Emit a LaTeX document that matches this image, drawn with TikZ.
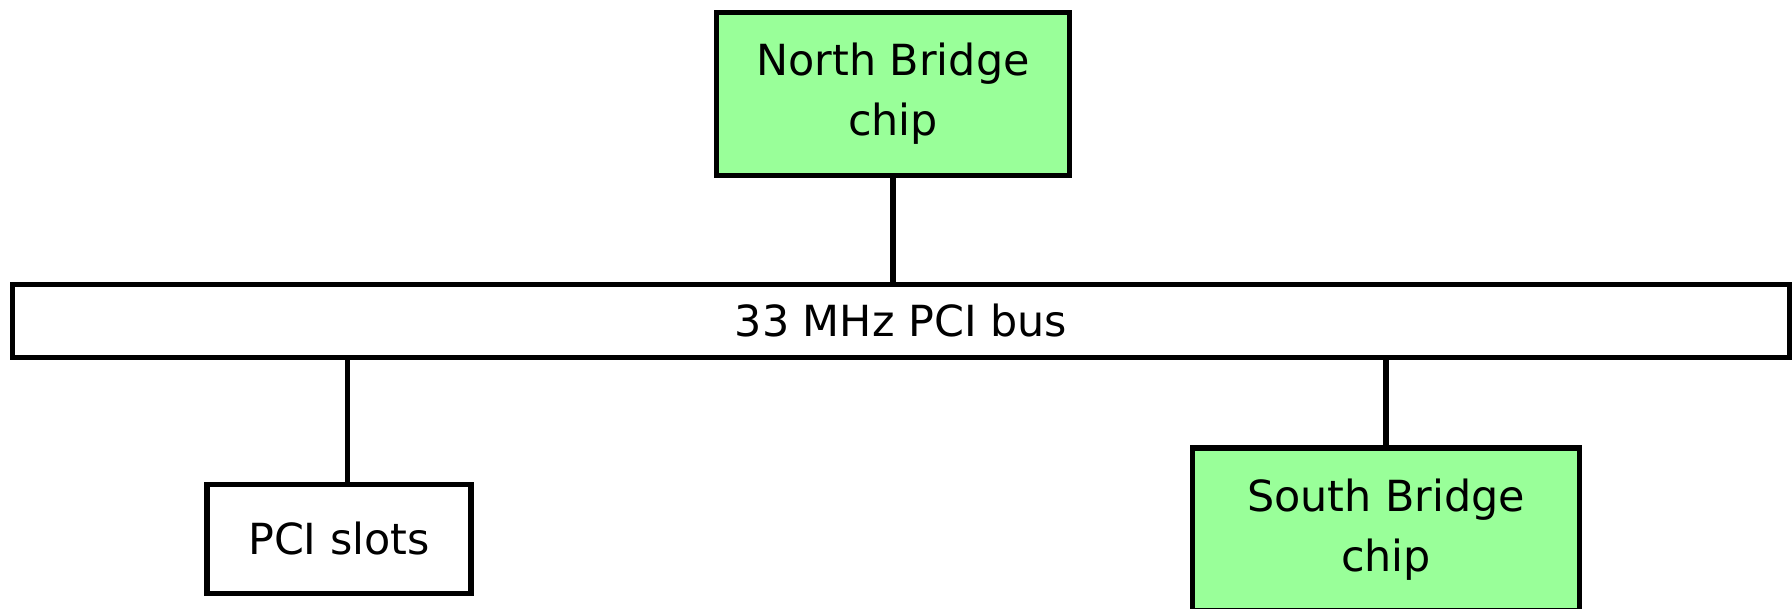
\documentclass[tikz,border=0pt]{standalone}
\usepackage{fontspec}
\setmainfont{DejaVu Sans}
\definecolor{chipgreen}{HTML}{99FF99}
\tikzset{
  box/.style={draw, line width=1.5pt, align=center, font=\fontsize{12.2}{17}\selectfont, inner sep=4pt, outer sep=0pt},
  bridge/.style={box, fill=chipgreen, minimum width=3.53cm, minimum height=1.63cm},
  wire/.style={line width=1.5pt}
}

\begin{document}
\begin{tikzpicture}
  \useasboundingbox (0,0) rectangle (17.92,6.09);
  \node[bridge] (north) at (8.93,5.15) {North Bridge\\chip};
  \node[box, minimum width=17.77cm, minimum height=0.725cm] (bus) at (9.01,2.88) {33 MHz PCI bus};
  \node[box, minimum width=2.64cm, minimum height=1.09cm] (slots) at (3.39,0.70) {PCI slots};
  \node[bridge, minimum width=3.87cm, anchor=north] (south) at (13.86,1.61) {South Bridge\\chip};
  \draw[wire] (north.south) -- (north.south |- bus.north);
  \draw[wire] ([xshift=0.85mm]slots.north) -- ([xshift=0.85mm]slots.north |- bus.south);
  \draw[wire] (south.north) -- (south.north |- bus.south);
\end{tikzpicture}
\end{document}
